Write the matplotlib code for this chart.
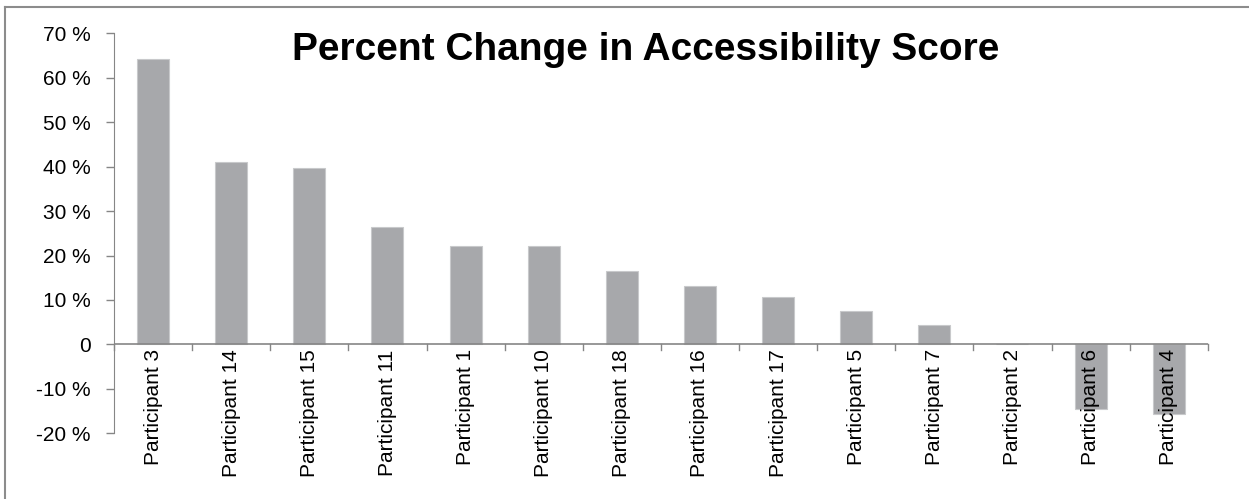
import matplotlib
matplotlib.use('Agg')
import matplotlib.pyplot as plt
from matplotlib.ticker import FuncFormatter

plt.rcParams['font.family'] = ['Liberation Sans', 'DejaVu Sans']

# participants sorted by percent change
participants = ['Participant 3', 'Participant 14', 'Participant 15', 'Participant 11',
                'Participant 1', 'Participant 10', 'Participant 18', 'Participant 16',
                'Participant 17', 'Participant 5', 'Participant 7', 'Participant 2',
                'Participant 6', 'Participant 4']
pct_change = [64.3, 41.0, 39.6, 26.4, 22.1, 22.1, 16.5, 13.2, 10.7, 7.5, 4.3, 0.0, -14.5, -15.6]
yticks = [-20, -10, 0, 10, 20, 30, 40, 50, 60, 70]

fig = plt.figure(figsize=(12.49, 4.99), dpi=100)
ax = fig.add_axes([0.0913, 0.1317, 0.8757, 0.8016])

axis_col = '#868686'
x = list(range(len(participants)))
ax.bar(x, pct_change, width=0.41, color='#A7A8AB', edgecolor='#C8C9CB', linewidth=0.8, zorder=2)

ax.set_xlim(-0.5, len(participants) - 0.5)
ax.set_ylim(-20, 70)
ax.set_yticks(yticks)
ax.yaxis.set_major_formatter(FuncFormatter(lambda v, p: '0' if v == 0 else '%d %%' % v))

# category labels sit just under the zero line
ax.set_xticks(x)
ax.set_xticklabels([])
for i, lab in enumerate(participants):
    ax.text(i, -1.1, lab, rotation=90, ha='center', va='top', fontsize=15, zorder=3)

for s in ['top', 'right', 'bottom']:
    ax.spines[s].set_visible(False)
ax.spines['left'].set_color(axis_col)
ax.axhline(0, color=axis_col, lw=1.2, zorder=3)
# boundary ticks along the zero line
for b in range(len(participants) + 1):
    ax.plot([b - 0.5, b - 0.5], [0, -1.2], color=axis_col, lw=1.0, clip_on=False, zorder=3)

ax.tick_params(axis='y', colors=axis_col, labelcolor='black', labelsize=15, length=6, width=1, pad=11)
ax.tick_params(axis='x', length=0)

fig.text(0.517, 0.900, 'Percent Change in Accessibility Score', ha='center', va='center',
         fontsize=28, fontweight='bold')

# outer chart frame
fig.add_artist(plt.Line2D([0.004, 0.004], [0, 0.986], color='#8C8C8C', lw=1.5, transform=fig.transFigure))
fig.add_artist(plt.Line2D([0.004, 1.0], [0.986, 0.986], color='#8C8C8C', lw=1.5, transform=fig.transFigure))

fig.savefig('out.png', dpi=100)
